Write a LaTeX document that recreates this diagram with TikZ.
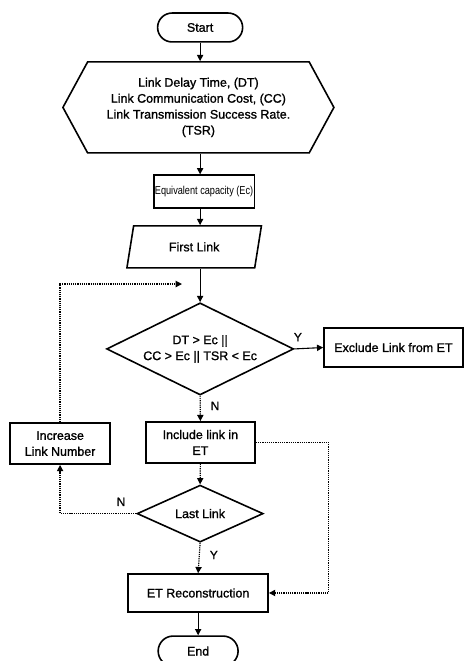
\documentclass[tikz,border=0pt]{standalone}
\usepackage{fontspec}
\setmainfont{Liberation Sans}[BoldFont=Liberation Sans, BoldFeatures={FakeBold=1.2}]
\newfontfamily\narrowsans{Liberation Sans}[FakeStretch=0.8]
\usetikzlibrary{arrows.meta,shapes.geometric,shapes.misc,shapes.symbols,calc}

\begin{document}
\begin{tikzpicture}[
  font=\fontsize{12.5}{16}\selectfont\bfseries,
  every node/.style={inner sep=0pt},
  term/.style={draw=black, rounded rectangle, line width=1.6pt,
    minimum width=3cm, minimum height=1.02cm},
  iobox/.style={draw=black, shape=signal, signal to=west and east,
    signal pointer angle=123, line width=1.6pt, align=center},
  box/.style={draw=black, rectangle, line width=1.6pt, align=center,
    minimum height=1.4cm},
  slant/.style={draw=black, trapezium, trapezium left angle=73,
    trapezium right angle=107, trapezium stretches=true, line width=1.6pt},
  cond/.style={draw=black, diamond, aspect=2, line width=1.6pt, align=center},
  flow/.style={-{Triangle[length=2.2mm, width=2.2mm]}, line width=1.1pt, draw=black},
  back/.style={-{Triangle[length=2.2mm, width=2.2mm]}, line width=1.2pt, draw=black, densely dotted},
  lbl/.style={font=\fontsize{12}{12}\selectfont\bfseries},
]
\useasboundingbox (0,0) rectangle (16.40,-23.32);

% ===== MAIN COLUMN =====
\node[term] (start) at (7.06, -0.97) {Start};
\node[iobox, minimum width=9.56cm, minimum height=3.21cm] (inputs) at (7.00, -3.79) {%
  Link Delay Time, (DT)\\
  Link Communication Cost, (CC)\\
  Link Transmission Success Rate.\\
  (TSR)};
\node[box, minimum width=3.55cm, minimum height=1.16cm,
  font=\narrowsans\fontsize{11.5}{13}\selectfont] (ecap) at (7.20, -6.76) {Equivalent capacity (Ec)};
\node[slant, minimum width=4.76cm, minimum height=1.48cm] (first) at (6.85, -8.71) {First Link};

% ===== FIRST DECISION =====
\node[cond, minimum width=6.6cm, minimum height=3.25cm] (dec) at (7.06, -12.31) {%
  DT > Ec ||\\CC > Ec || TSR < Ec};
\node[box, minimum width=4.9cm, minimum height=1.38cm] (excl) at (13.88, -12.26) {Exclude Link from ET};

% ===== INCLUDE / INCREASE =====
\node[box, minimum width=3.85cm, minimum height=1.45cm] (incl) at (7.07, -15.61) {Include link in\\ET};
\node[box, minimum width=3.53cm, minimum height=1.45cm] (incr) at (2.12, -15.65) {Increase\\Link Number};

% ===== LAST LINK + END =====
\node[cond, minimum width=4.45cm, minimum height=2.01cm] (last) at (7.06, -18.12) {Last Link};
\node[box, minimum width=4.94cm, minimum height=1.34cm] (recon) at (6.99, -20.92) {ET Reconstruction};
\node[term, minimum width=2.82cm, minimum height=1.06cm] (end) at (6.99, -22.97) {End};

\coordinate (loopin) at (6.42, -10.02);

% ===== ARROWS: main flow =====
\draw[flow] (start.south) -- (start.south |- inputs.north);
\draw[flow] (inputs.south -| dec.north) -- (ecap.north -| dec.north);
\draw[flow] (ecap.south -| dec.north) -- (first.north -| dec.north);
\draw[flow] (first.south -| dec.north) -- (dec.north);
\draw[flow] (dec.east) -- node[lbl, pos=0.12, above=7pt]{Y} (excl.west);

% ===== ARROWS: dotted branches =====
\draw[back] (dec.south) -- node[lbl, pos=0.4, right=3.5mm]{N} (incl.north);
\draw[back] (incl.south) -- (last.north);
\draw[back] (last.west) -| node[lbl, pos=0.1, above=2.5mm]{N} (incr.south);
\draw[back] (incr.north) |- (loopin);
\draw[back] (last.south) -- node[lbl, pos=0.4, right=3.5mm]{Y} (recon.north);
\draw[back] (incl.east) -- ++(2.57,0) |- (recon.east);
\draw[flow] (recon.south -| end.north) -- (end.north);

\end{tikzpicture}
\end{document}
